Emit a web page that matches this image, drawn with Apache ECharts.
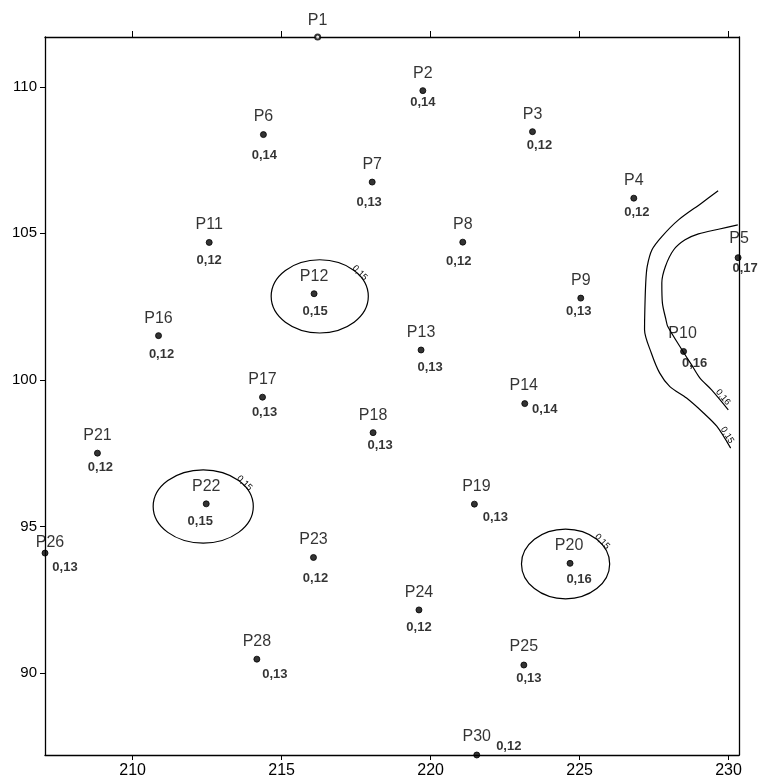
<!DOCTYPE html>
<html><head><meta charset="utf-8">
<script src="https://cdn.jsdelivr.net/npm/echarts@6/dist/echarts.min.js"></script>
<style>html,body{margin:0;padding:0;background:#fff}#c{width:762px;height:784px}</style>
</head><body><div id="c"></div>
<script>
// ---- data ----
const names = ['P1','P2','P3','P4','P5','P6','P7','P8','P9','P10','P11','P12','P13','P14','P16','P17','P18','P19','P20','P21','P22','P23','P24','P25','P26','P28','P30'];
const xs = [216.21,219.74,223.42,226.82,230.32,214.39,218.04,221.08,225.04,228.49,212.57,216.09,219.68,223.16,210.87,214.36,218.07,221.47,224.68,208.82,212.47,216.07,219.61,223.13,207.06,214.17,221.55];
const ys = [111.70,109.87,108.47,106.20,104.17,108.37,106.75,104.70,102.79,100.97,104.69,102.94,101.02,99.19,101.51,99.41,98.20,95.76,93.74,97.50,95.77,93.94,92.15,90.27,94.09,90.47,87.20];
const vals = [null,0.14,0.12,0.12,0.17,0.14,0.13,0.12,0.13,0.16,0.12,0.15,0.13,0.14,0.12,0.13,0.13,0.13,0.16,0.12,0.15,0.12,0.12,0.13,0.13,0.13,0.12];
const xTicks = [210,215,220,225,230];
const yTicks = [90,95,100,105,110];
const ellipseCenters = [[216.28,102.85],[212.37,95.68],[224.53,93.72]];
const ellipseRadii = [[1.63,1.25],[1.68,1.25],[1.48,1.19]];
const ellipseLevels = [0.15,0.15,0.15];
const contour15 = [[229.65,106.45],[229.09,106.03],[228.32,105.46],[227.76,104.89],[227.43,104.44],[227.27,103.87],[227.22,103.31],[227.19,102.39],[227.18,101.71],[227.41,100.91],[227.69,100.23],[228.03,99.77],[228.59,99.38],[229.16,98.87],[229.61,98.41],[230.07,97.67]];
const contour16 = [[230.31,105.29],[229.66,105.14],[228.99,104.98],[228.54,104.78],[228.16,104.44],[227.88,103.87],[227.76,103.31],[227.78,102.62],[227.90,102.05],[227.96,101.82],[228.47,100.97],[228.76,100.51],[229.04,100.06],[229.43,99.66],[229.99,98.98]];
const contourLevels = [0.15,0.16];

// ---- styling (label offsets in px) ----
const nameOff = {P1:[0,-16],P5:[1,-19],P26:[5,-10],P10:[-1,-18],P30:[0,-18],P14:[-1,-18],P19:[2,-18],P9:[0,-18],P20:[-1,-18],P25:[0,-18]};
const valOff = {P2:[0,12],P3:[7,14],P4:[3,14],P5:[7,11],P6:[1,21],P7:[-3,20],P8:[-4,19],P9:[-2,13],P10:[11,12],P11:[0,18],P12:[1,18],P13:[9,17],P14:[20,6],P16:[3,19],P17:[2,15],P18:[7,13],P19:[21,13],P20:[9,16],P21:[3,14],P22:[-6,18],P23:[2,21],P24:[0,17],P25:[5,13],P26:[20,14],P28:[18,15],P30:[32,-9]};
const FONT = "'Liberation Sans', Arial, sans-serif";
const fmt = v => v.toFixed(2).replace('.', ',');

const pointData = names.map((n,i)=>({
  name:n, value:[xs[i],ys[i]],
  symbol: n==='P1' ? 'emptyCircle' : 'circle',
  symbolSize: n==='P1' ? 5 : 6,
  label:{offset: nameOff[n] || [0,-17.5]}
}));
const valueData = names.map((n,i)=>vals[i]==null?null:({
  name:n, value:[xs[i],ys[i]],
  label:{offset: valOff[n] || [0,16], formatter: fmt(vals[i])}
})).filter(d=>d);

const ellipseData = ellipseCenters.map((c,i)=>[c[0],c[1],ellipseRadii[i][0],ellipseRadii[i][1],ellipseLevels[i]]);
const contours = [contour15, contour16];

const chart = echarts.init(document.getElementById('c'), null, {renderer:'canvas'});
chart.setOption({
  animation:false,
  backgroundColor:'#fff',
  grid:{left:45,right:23,top:37,bottom:29,show:false},
  xAxis:[{
    type:'value', position:'bottom', min:207.06, max:230.35,
    axisLine:{show:true,onZero:false,lineStyle:{color:'#000',width:1.3}},
    axisTick:{show:true,customValues:xTicks,length:5,lineStyle:{color:'#000'}},
    axisLabel:{show:true,customValues:xTicks,color:'#000',fontSize:16,fontFamily:FONT,margin:8},
    splitLine:{show:false}
  },{
    type:'value', position:'top', min:207.06, max:230.35,
    axisLine:{show:true,onZero:false,lineStyle:{color:'#000',width:1.3}},
    axisTick:{show:true,customValues:xTicks,length:6,lineStyle:{color:'#000'}},
    axisLabel:{show:false},
    splitLine:{show:false}
  }],
  yAxis:[{
    type:'value', position:'left', min:87.2, max:111.7,
    axisLine:{show:true,onZero:false,lineStyle:{color:'#000',width:1.3}},
    axisTick:{show:true,customValues:yTicks,length:5,lineStyle:{color:'#000'}},
    axisLabel:{show:true,customValues:yTicks,color:'#000',fontSize:15,fontFamily:FONT,margin:8},
    splitLine:{show:false}
  },{
    type:'value', position:'right', min:87.2, max:111.7,
    axisLine:{show:true,onZero:false,lineStyle:{color:'#000',width:1.3}},
    axisTick:{show:false}, axisLabel:{show:false}, splitLine:{show:false}
  }],
  series:[
    {type:'line', data:contour15, smooth:0.3, showSymbol:false, symbol:'none', lineStyle:{color:'#000',width:1.2}, z:2, silent:true},
    {type:'line', data:contour16, smooth:0.3, showSymbol:false, symbol:'none', lineStyle:{color:'#000',width:1.2}, z:2, silent:true},
    {type:'custom', data:[0,1], z:3, silent:true,
      renderItem:(params, api)=>{
        const pts = contours[params.dataIndex];
        const a = api.coord(pts[pts.length-2]);
        const b = api.coord(pts[pts.length-1]);
        const dx=b[0]-a[0], dy=b[1]-a[1], len=Math.hypot(dx,dy);
        const nx=dy/len, ny=-dx/len;
        return {type:'text', x:(a[0]+b[0])/2 + nx*4, y:(a[1]+b[1])/2 + ny*4,
          rotation:-Math.atan2(dy,dx),
          style:{text:fmt(contourLevels[params.dataIndex]), fontSize:9, fontFamily:FONT, fill:'#000', align:'center', verticalAlign:'middle'}};
      }},
    {type:'custom', data:ellipseData, z:3, silent:true, clip:false,
      renderItem:(params, api)=>{
        const c = api.coord([api.value(0), api.value(1)]);
        const s = api.size([api.value(2), api.value(3)]);
        const rx=s[0], ry=s[1];
        const t = 37*Math.PI/180;
        const px = c[0]+rx*Math.cos(t), py = c[1]-ry*Math.sin(t);
        const tx = rx*Math.sin(t), ty = ry*Math.cos(t);
        const tl = Math.hypot(tx,ty);
        const nx = ty/tl, ny = -tx/tl;
        return {type:'group', children:[
          {type:'ellipse', shape:{cx:c[0],cy:c[1],rx:rx,ry:ry}, style:{fill:'none',stroke:'#000',lineWidth:1.2}},
          {type:'text', x:px+nx*2, y:py+ny*2, rotation:-Math.atan2(ty,tx),
            style:{text:fmt(api.value(4)), fontSize:9, fontFamily:FONT, fill:'#000', align:'center', verticalAlign:'middle'}}
        ]};
      }},
    {type:'scatter', data:pointData, z:5, clip:false,
      itemStyle:{color:'#000', borderColor:'#000', borderWidth:1},
      label:{show:true, position:'inside', formatter:'{b}', color:'#000', fontSize:16, fontFamily:FONT}},
    {type:'scatter', data:valueData, z:5, clip:false, symbolSize:0, silent:true,
      itemStyle:{color:'transparent'},
      label:{show:true, position:'inside', color:'#000', fontSize:13, fontWeight:'bold', fontFamily:FONT}}
  ]
});
</script></body></html>
